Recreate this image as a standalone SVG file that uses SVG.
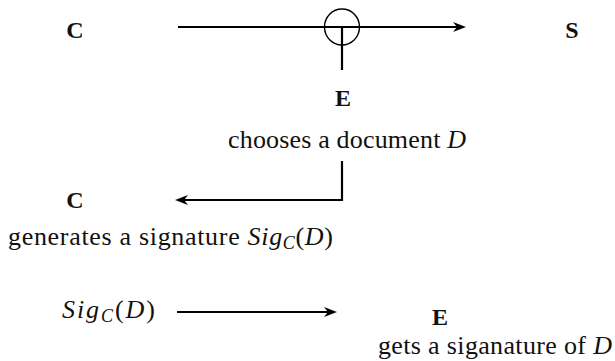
<svg xmlns="http://www.w3.org/2000/svg" width="615" height="361" viewBox="0 0 615 361">
  <style>
    .lbl { font-family: "Liberation Serif", "Times New Roman", serif; font-weight: bold; font-size: 24px; fill: #111; text-anchor: middle; }
    .txt { font-family: "Liberation Serif", "Times New Roman", serif; font-size: 26px; fill: #111; }
    .it { font-style: italic; }
    .sub { font-style: italic; font-size: 18px; }
    .ln { fill: none; stroke: #000; stroke-width: 2.2; }
    .thin { fill: none; stroke: #000; stroke-width: 1.4; }
  </style>
  <defs>
    <marker id="arr" viewBox="-14 -6 16 12" refX="-4" refY="0" markerWidth="16" markerHeight="12" markerUnits="userSpaceOnUse" orient="auto">
      <path d="M0,0 L-13,-5 L-9,0 L-13,5 Z" fill="#000"/>
    </marker>
  </defs>
  <rect width="615" height="361" fill="#fff"/>

  <g id="connectors">
    <path class="ln" d="M178,27 H462" marker-end="url(#arr)"/>
    <ellipse class="thin" cx="342" cy="27" rx="17.5" ry="18"/>
    <path class="ln" d="M342,27 V70"/>
    <path class="ln" d="M342,161 V200 H179" marker-end="url(#arr)"/>
    <path class="ln" d="M177,312 H333" marker-end="url(#arr)"/>
  </g>

  <g id="node-c1"><text class="lbl" x="75" y="38">C</text></g>
  <g id="node-s"><text class="lbl" x="572" y="38">S</text></g>
  <g id="node-e1"><text class="lbl" x="343" y="106">E</text></g>
  <g id="note-chooses"><text class="txt" x="228" y="148" textLength="238" lengthAdjust="spacing">chooses a document <tspan class="it">D</tspan></text></g>
  <g id="node-c2"><text class="lbl" x="75" y="208">C</text></g>
  <g id="note-generates"><text class="txt" x="8" y="245" textLength="325" lengthAdjust="spacing">generates a signature <tspan class="it">Sig</tspan><tspan class="sub" dy="4">C</tspan><tspan dy="-4">(</tspan><tspan class="it">D</tspan>)</text></g>
  <g id="note-sig"><text class="txt" x="62" y="318" textLength="93" lengthAdjust="spacing"><tspan class="it">Sig</tspan><tspan class="sub" dy="4">C</tspan><tspan dy="-4">(</tspan><tspan class="it">D</tspan>)</text></g>
  <g id="node-e2"><text class="lbl" x="440" y="325">E</text></g>
  <g id="note-gets"><text class="txt" x="378" y="354" textLength="234" lengthAdjust="spacing">gets a siganature of <tspan class="it">D</tspan></text></g>
</svg>
